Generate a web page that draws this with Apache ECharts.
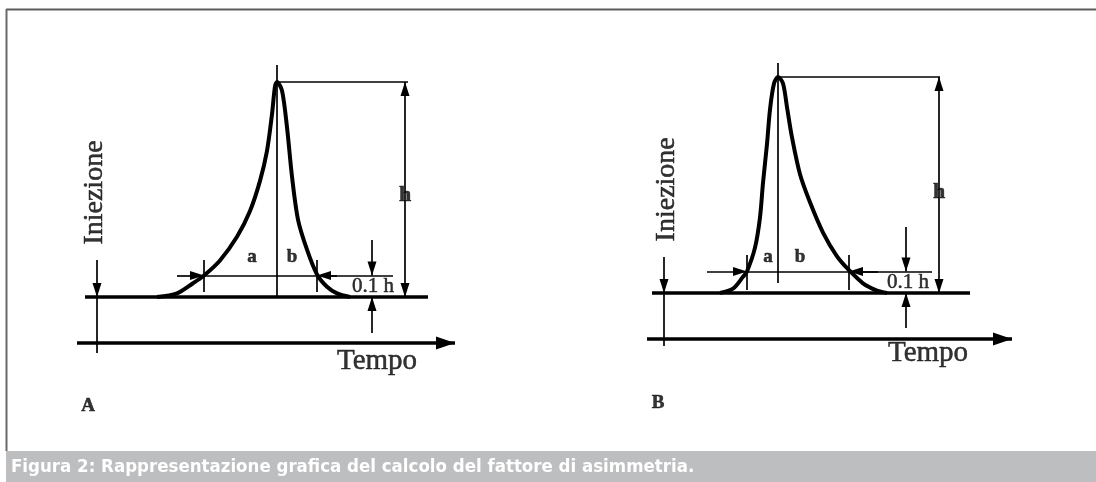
<!DOCTYPE html>
<html>
<head>
<meta charset="utf-8">
<script src="https://cdn.jsdelivr.net/npm/echarts@6/dist/echarts.min.js"></script>
<style>
html,body{margin:0;padding:0;background:#fff;}
#main{width:1096px;height:482px;}
</style>
</head>
<body>
<div id="main"></div>
<script>
// picco A: [tempo, segnale / h]
var peakA = [[6.0,0],[8.0,0.017],[9.6,0.064],[10.7,0.10],[12.3,0.17],[14.0,0.28],[15.3,0.40],[16.3,0.54],[17.0,0.68],[17.5,0.85],[17.8,0.98],[18.0,1.0],[18.5,0.96],[19.0,0.79],[19.5,0.56],[20.1,0.36],[21.0,0.22],[22.0,0.105],[23.0,0.048],[24.0,0.017],[25.3,0]];
// picco B (coda a destra)
var peakB = [[5.6,0],[6.9,0.02],[7.9,0.075],[8.3,0.10],[9.1,0.21],[9.6,0.35],[9.9,0.51],[10.3,0.69],[10.6,0.85],[11.0,0.97],[11.4,1.0],[11.9,0.97],[12.3,0.86],[12.8,0.72],[13.6,0.55],[14.6,0.42],[15.9,0.28],[17.3,0.17],[18.5,0.106],[19.9,0.045],[21.3,0.011],[22.3,0]];

// tempi caratteristici: [apice, inizio a 0.1h, fine a 0.1h]
var timesA = [18.0, 10.7, 22.0];
var timesB = [11.4, 8.3, 18.5];

// testi: [testo, tempo, segnale]
var textA = [['Iniezione',-0.2,0.486],['Tempo',28.0,-0.30],['h',30.8,0.474],['0.1 h',27.6,0.047],['a',15.5,0.186],['b',19.5,0.186],['A',-0.9,-0.507]];
var textB = [['Iniezione',0.3,0.48],['Tempo',26.4,-0.278],['h',27.5,0.468],['0.1 h',24.4,0.05],['a',10.4,0.167],['b',13.6,0.167],['B',-0.6,-0.509]];

var caption = 'Figura 2: Rappresentazione grafica del calcolo del fattore di asimmetria.';

var serif = '"Liberation Serif","Times New Roman",serif';
var textStyles = {
  'Iniezione': {fontSize: 28, rotate: 90},
  'Tempo': {fontSize: 29},
  'h': {fontSize: 22, fontWeight: 'bold', backgroundColor: '#fff', padding: [2, 1]},
  '0.1 h': {fontSize: 21},
  'a': {fontSize: 19, fontWeight: 'bold'},
  'b': {fontSize: 19, fontWeight: 'bold'},
  'A': {fontSize: 19, fontWeight: 'bold'},
  'B': {fontSize: 19, fontWeight: 'bold'}
};

// segmento con eventuali frecce (punta sull'estremo)
function seg(x1, y1, x2, y2, a1, a2, big) {
  var size = big ? [13, 19] : [9, 14];
  function end(x, y, arrow) {
    return arrow
      ? {coord: [x, y], symbol: 'triangle', symbolSize: size, symbolOffset: [0, size[1] / 2]}
      : {coord: [x, y], symbol: 'none'};
  }
  return [end(x1, y1, a1), end(x2, y2, a2)];
}

function marks(idx, thick, thin) {
  var common = {
    silent: true, animation: false, symbol: 'none',
    label: {show: false}, emphasis: {disabled: true}, itemStyle: {color: '#000'}
  };
  return [
    {type: 'line', xAxisIndex: idx, yAxisIndex: idx, data: [],
     markLine: Object.assign({}, common, {lineStyle: {color: '#000', width: 3.5, type: 'solid'}, data: thick})},
    {type: 'line', xAxisIndex: idx, yAxisIndex: idx, data: [],
     markLine: Object.assign({}, common, {lineStyle: {color: '#000', width: 1.7, type: 'solid'}, data: thin})}
  ];
}

function labels(idx, list) {
  return {
    type: 'scatter', xAxisIndex: idx, yAxisIndex: idx, symbolSize: 0, silent: true, animation: false,
    data: list.map(function (t) {
      return {
        name: t[0], value: [t[1], t[2]],
        label: Object.assign({show: true, position: 'inside', formatter: '{b}', color: '#000',
          textBorderColor: '#000', textBorderWidth: 0.5, fontFamily: serif}, textStyles[t[0]])
      };
    })
  };
}

function curve(idx, data) {
  return {type: 'line', xAxisIndex: idx, yAxisIndex: idx, data: data, smooth: 0.3,
    showSymbol: false, silent: true, animation: false, lineStyle: {color: '#000', width: 4}};
}

// pannello A
var tA = timesA;
var thickA = [seg(-1.2, 0, 33.1, 0), seg(-2.0, -0.214, 35.8, -0.214, false, true, true)];
var thinA = [
  seg(0, 0.172, 0, 0, false, true), seg(0, 0, 0, -0.26),
  seg(tA[0], 1.079, tA[0], 0), seg(tA[0], 1, 31.1, 1),
  seg(30.8, 1, 30.8, 0, true, true),
  seg(8.0, 0.1, tA[1], 0.1, false, true), seg(tA[1], 0.1, 29.6, 0.1), seg(24.0, 0.1, tA[2], 0.1, false, true),
  seg(tA[1], 0.172, tA[1], 0.023), seg(tA[2], 0.172, tA[2], 0.023),
  seg(27.5, 0.265, 27.5, 0.1, false, true), seg(27.5, -0.167, 27.5, 0, false, true)
];
// pannello B
var tB = timesB;
var thickB = [seg(-1.2, 0, 30.6, 0), seg(-1.7, -0.213, 34.8, -0.213, false, true, true)];
var thinB = [
  seg(0, 0.167, 0, 0, false, true), seg(0, 0, 0, -0.245),
  seg(tB[0], 1.065, tB[0], 0.046), seg(tB[0], 1, 27.6, 1),
  seg(27.5, 1, 27.5, 0, true, true),
  seg(4.3, 0.1, tB[1], 0.1, false, true), seg(tB[1], 0.1, 26.8, 0.1), seg(21.4, 0.1, tB[2], 0.1, false, true),
  seg(tB[1], 0.176, tB[1], 0.014), seg(tB[2], 0.176, tB[2], 0.014),
  seg(24.2, 0.306, 24.2, 0.1, false, true), seg(24.2, -0.162, 24.2, 0, false, true)
];

var chart = echarts.init(document.getElementById('main'));
var option = {
  backgroundColor: '#fff',
  animation: false,
  grid: [
    {left: 77, top: 60.5, width: 380, height: 365.5},
    {left: 644, top: 55.4, width: 380, height: 367.2}
  ],
  xAxis: [
    {type: 'value', gridIndex: 0, min: -2, max: 36, show: false},
    {type: 'value', gridIndex: 1, min: -2, max: 36, show: false}
  ],
  yAxis: [
    {type: 'value', gridIndex: 0, min: -0.6, max: 1.1, show: false},
    {type: 'value', gridIndex: 1, min: -0.6, max: 1.1, show: false}
  ],
  graphic: [
    {type: 'line', shape: {x1: 6, y1: 9.5, x2: 1096, y2: 9.5}, style: {stroke: '#5c5c5c', lineWidth: 2}},
    {type: 'line', shape: {x1: 6.5, y1: 9, x2: 6.5, y2: 451}, style: {stroke: '#6a6a6a', lineWidth: 2}},
    {type: 'rect', shape: {x: 6, y: 451, width: 1090, height: 31}, style: {fill: '#bdbec0'}},
    {type: 'text', x: 11, y: 467, style: {text: caption, fill: '#fff', font: 'bold 18.5px "DejaVu Sans Condensed","Liberation Sans Narrow",sans-serif', verticalAlign: 'middle'}}
  ],
  series: [curve(0, peakA), curve(1, peakB)]
    .concat(marks(0, thickA, thinA), marks(1, thickB, thinB))
    .concat([labels(0, textA), labels(1, textB)])
};
chart.setOption(option);
</script>
</body>
</html>
